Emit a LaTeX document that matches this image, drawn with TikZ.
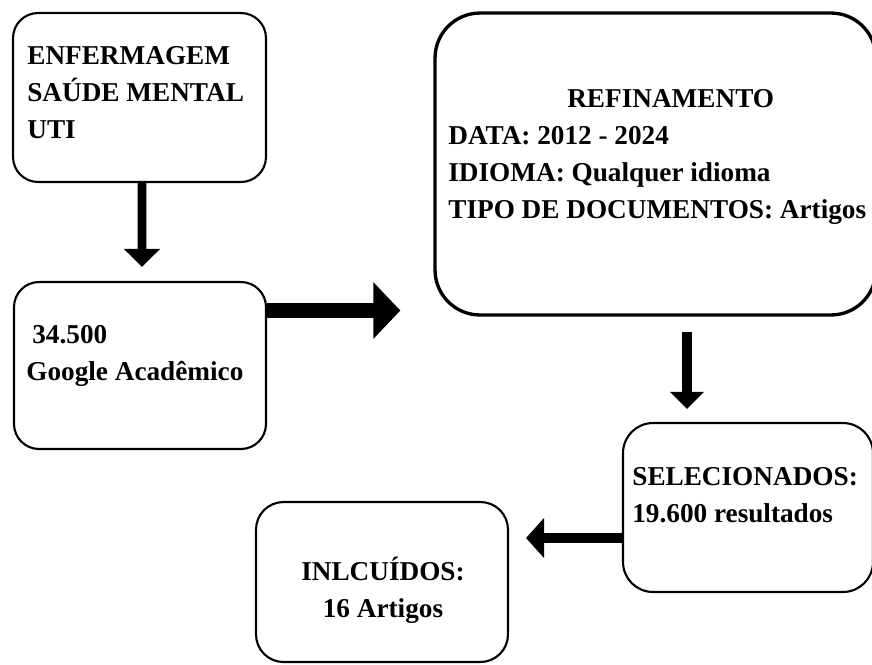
\documentclass[tikz,border=0pt]{standalone}
\usepackage{fontspec}
\setmainfont{Liberation Serif}
\usetikzlibrary{arrows.meta, positioning}

\tikzset{
	caixa/.style={draw, line width=1.2pt, inner sep=0pt, rounded corners=#1},
	caixa/.default=0.5cm,
	texto/.style={font=\fontsize{15.5}{21}\selectfont\bfseries, align=left, inner sep=0pt},
	seta/.style={line width=#1},
}

\begin{document}
\begin{tikzpicture}[x=0.02cm, y=-0.02cm]
	\useasboundingbox (0,0) rectangle (872,664);
	% caixas
	\node[caixa, minimum width=5.06cm, minimum height=3.38cm] (enf) at (139.5,97.5) {};
	\node[caixa, minimum width=5.04cm, minimum height=3.34cm] (google) at (140,365.5) {};
	\node[caixa=0.9cm, line width=1.9pt, minimum width=8.82cm, minimum height=6.04cm] (refin) at (655.5,164) {};
	\node[caixa=0.6cm, minimum width=5.0cm, minimum height=3.38cm] (sel) at (748,507.5) {};
	\node[caixa=0.55cm, minimum width=5.04cm, minimum height=3.2cm] (incl) at (382,582) {};
	% textos (base = ultima linha)
	\node[texto, anchor=base west] (enftxt) at (27,138) {ENFERMAGEM\\SAÚDE MENTAL\\UTI};
	\node[texto, anchor=base west] (googletxt) at (26,380) {\hspace*{0.12cm}34.500\\Google Acadêmico};
	\node[texto, anchor=base west] (refintxt) at (448,218)
		{\hspace*{2.38cm}REFINAMENTO\\DATA: 2012 - 2024\\IDIOMA: Qualquer idioma\\TIPO DE DOCUMENTOS: Artigos};
	\node[texto, anchor=base west] (seltxt) at (632,522) {SELECIONADOS:\\19.600 resultados};
	\node[texto, align=center, anchor=base] (incltxt) at (383,617) {INLCUÍDOS:\\16 Artigos};
	% setas
	\draw[seta=5pt, -{Triangle[length=0.36cm, width=0.7cm]}, shorten >=0.28cm]
		([xshift=0.05cm]enf.south) -- ([xshift=0.04cm]google.north);
	\coordinate (s2) at ([yshift=1.1cm]google.east);
	\draw[seta=8.5pt, -{Triangle[length=0.54cm, width=1.1cm]}, shorten >=0.66cm]
		(s2) -- (s2 -| refin.west);
	\coordinate (s3) at ([xshift=0.63cm]refin.south);
	\draw[seta=5.7pt, -{Triangle[length=0.34cm, width=0.66cm]}, shorten <=0.3cm, shorten >=0.26cm]
		(s3) -- (s3 |- sel.north);
	\coordinate (s4) at ([yshift=-0.61cm]sel.west);
	\draw[seta=5.7pt, -{Triangle[length=0.36cm, width=0.78cm]}, shorten >=0.34cm]
		(s4) -- (s4 -| incl.east);
\end{tikzpicture}
\end{document}
